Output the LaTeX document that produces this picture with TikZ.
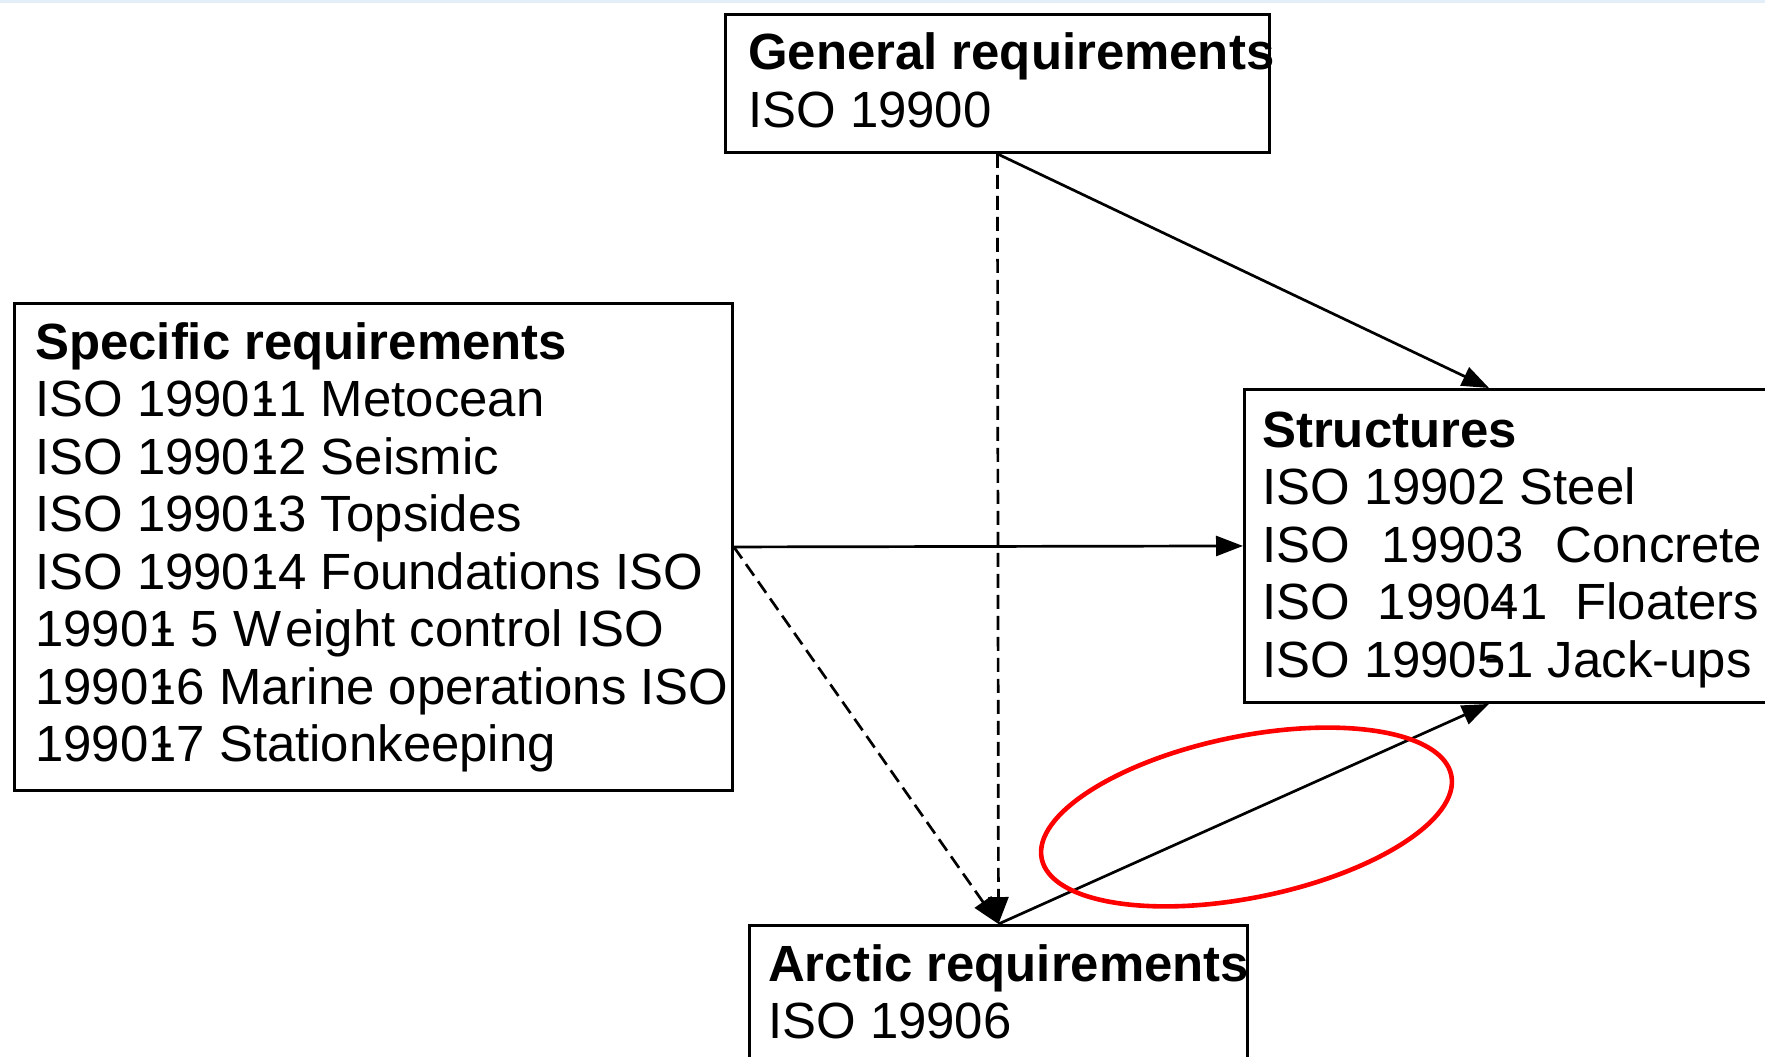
\documentclass[tikz,border=0pt]{standalone}
\usepackage{fontspec}
\setmainfont{Liberation Sans}
\usetikzlibrary{arrows.meta}

\definecolor{topband}{RGB}{228,238,248}

% a digit with a hyphen printed over it
\newcommand{\ovr}[1]{\ooalign{#1\cr\hidewidth\kern4pt\raisebox{2.5pt}{-}\hidewidth\cr}}
% a block of lines whose reference point is the first baseline
\newcommand{\txtblock}[1]{\vtop{\baselineskip=57.5pt\lineskiplimit=-16000pt #1}}
\newcommand{\row}[1]{\hbox{#1}}

\tikzset{
  boxframe/.style={draw, rectangle, line width=2.9pt, inner sep=0pt, anchor=north west},
  boxtext/.style={anchor=base west, inner sep=0pt, font=\fontsize{50.9pt}{57.5pt}\selectfont},
  link/.style={line width=2.7pt, -{Triangle[length=27pt,width=20pt]}},
  dlink/.style={link, dash pattern=on 14pt off 7pt},
  mark ring/.style={draw=red, line width=4.6pt}
}

\begin{document}
\begin{tikzpicture}[x=1pt,y=-1pt]
\useasboundingbox (0,0) rectangle (1765,1057);
\fill[white] (0,0) rectangle (1765,1057);
\fill[topband] (0,0) rectangle (1765,3);

% frames
\node[boxframe, minimum width=544pt, minimum height=138pt] (gen) at (724,13) {};
\node[boxframe, minimum width=718pt, minimum height=487pt] (spec) at (13,302) {};
\node[boxframe, minimum width=560pt, minimum height=313pt] (struct) at (1243,388) {};
\node[boxframe, minimum width=498pt, minimum height=200pt] (arctic) at (748,924) {};

% contents
\node[boxtext] (gentext) at (748,70) {\txtblock{%
  \row{\bfseries General requirements}
  \row{ISO 19900}}};

\node[boxtext] (spectext) at (35,359) {\txtblock{%
  \row{\bfseries Specific requirements}
  \row{ISO 1990\ovr{1}1 Metocean}
  \row{ISO 1990\ovr{1}2 Seismic}
  \row{ISO 1990\ovr{1}3 Topsides}
  \row{ISO 1990\ovr{1}4 Foundations ISO}
  \row{1990\ovr{1} 5 W\kern4pt eight control ISO}
  \row{1990\ovr{1}6 Marine operations ISO}
  \row{1990\ovr{1}7 Stationkeeping}}};

\node[boxtext] (structtext) at (1262,447) {\txtblock{%
  \row{\bfseries Structures}
  \row{ISO 19902 Steel}
  \row{\makebox[500pt][s]{ISO 19903 Concrete}}
  \row{\makebox[497pt][s]{ISO 1990\ovr{4}1 Floaters}}
  \row{ISO 1990\ovr{5}1 Jack-ups}}};

\node[boxtext] (arctictext) at (768,981) {\txtblock{%
  \row{\bfseries Arctic requirements}
  \row{ISO 19906}}};

% connectors
\draw[link] (gen.south) -- ([xshift=246pt]struct.north west);
\draw[dlink] (gen.south) -- (arctic.north);
\draw[link] (spec.east) -- (struct.west);
\draw[dlink] (spec.east) -- (arctic.north);
\draw[link] (arctic.north) -- ([xshift=246pt]struct.south west);

% highlight ring
\draw[mark ring, rotate around={11.5:(1246.5,817)}] (1246.5,817) ellipse [x radius=209pt, y radius=80.7pt];
\end{tikzpicture}
\end{document}
